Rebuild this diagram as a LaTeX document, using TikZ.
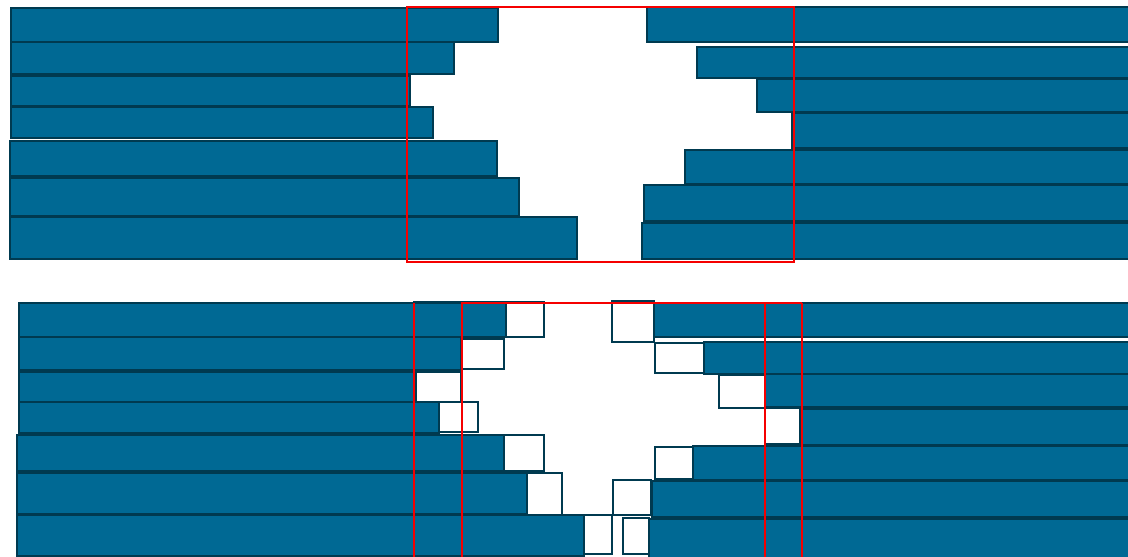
\documentclass[tikz,border=0pt]{standalone}
\definecolor{barblue}{RGB}{0,105,148}
\definecolor{baredge}{RGB}{0,58,80}
\definecolor{frame}{RGB}{245,0,0}
\tikzset{
  bar/.style={fill=barblue,draw=baredge,line width=1.3pt},
  slot/.style={fill=white,draw=baredge,line width=1.3pt},
  window/.style={draw=frame,line width=1.4pt}
}
\begin{document}
\begin{tikzpicture}[x=0.5pt,y=-0.5pt]
\useasboundingbox (0,0) rectangle (1128,556);
\clip (0,0) rectangle (1128,556);
% ---------- top panel: left bars
\draw[bar] (11,8) rectangle (498,42);
\draw[bar] (11,42) rectangle (454,74);
\draw[bar] (11,76) rectangle (410,106);
\draw[bar] (11,107) rectangle (433,138);
\draw[bar] (10,141) rectangle (497,176);
\draw[bar] (10,178) rectangle (519,216);
\draw[bar] (10,217) rectangle (577,259);
% ---------- top panel: right bars
\draw[bar] (647,7) rectangle (1140,42);
\draw[bar] (697,47) rectangle (1140,78);
\draw[bar] (757,79) rectangle (1140,112);
\draw[bar] (792,113) rectangle (1140,148);
\draw[bar] (685,150) rectangle (1140,184);
\draw[bar] (644,185) rectangle (1140,221);
\draw[bar] (642,223) rectangle (1140,259);
\draw[window] (407,7) rectangle (794,262);
% ---------- bottom panel: left slots and bars
\draw[slot] (414,302) rectangle (544,337);
\draw[bar]  (19,303) rectangle (506,337);
\draw[slot] (461,339) rectangle (504,369);
\draw[bar]  (19,337) rectangle (461,370);
\draw[slot] (416,372) rectangle (461,402);
\draw[bar]  (19,372) rectangle (416,402);
\draw[slot] (439,402) rectangle (478,432);
\draw[bar]  (19,402) rectangle (439,433);
\draw[slot] (504,435) rectangle (544,471);
\draw[bar]  (17,435) rectangle (504,471);
\draw[slot] (527,473) rectangle (562,517);
\draw[bar]  (17,473) rectangle (527,514);
\draw[slot] (584,515) rectangle (612,554);
\draw[bar]  (17,515) rectangle (584,556);
% ---------- bottom panel: right slots and bars
\draw[slot] (612,301) rectangle (654,342);
\draw[bar]  (654,303) rectangle (1140,337);
\draw[slot] (655,343) rectangle (704,373);
\draw[bar]  (704,342) rectangle (1140,374);
\draw[slot] (719,375) rectangle (765,408);
\draw[bar]  (765,374) rectangle (1140,407);
\draw[slot] (765,408) rectangle (800,444);
\draw[bar]  (800,409) rectangle (1140,445);
\draw[slot] (655,447) rectangle (693,479);
\draw[bar]  (693,446) rectangle (1140,480);
\draw[slot] (613,480) rectangle (651,515);
\draw[bar]  (652,481) rectangle (1140,517);
\draw[slot] (623,518) rectangle (649,554);
\draw[bar]  (649,519) rectangle (1140,558);
\draw[window] (414,562) -- (414,303);
\draw[window,line width=0.8pt] (765,303) -- (802,303);
\draw[window] (802,303) -- (802,562);
\draw[window] (462,303) rectangle (765,562);
\end{tikzpicture}
\end{document}
